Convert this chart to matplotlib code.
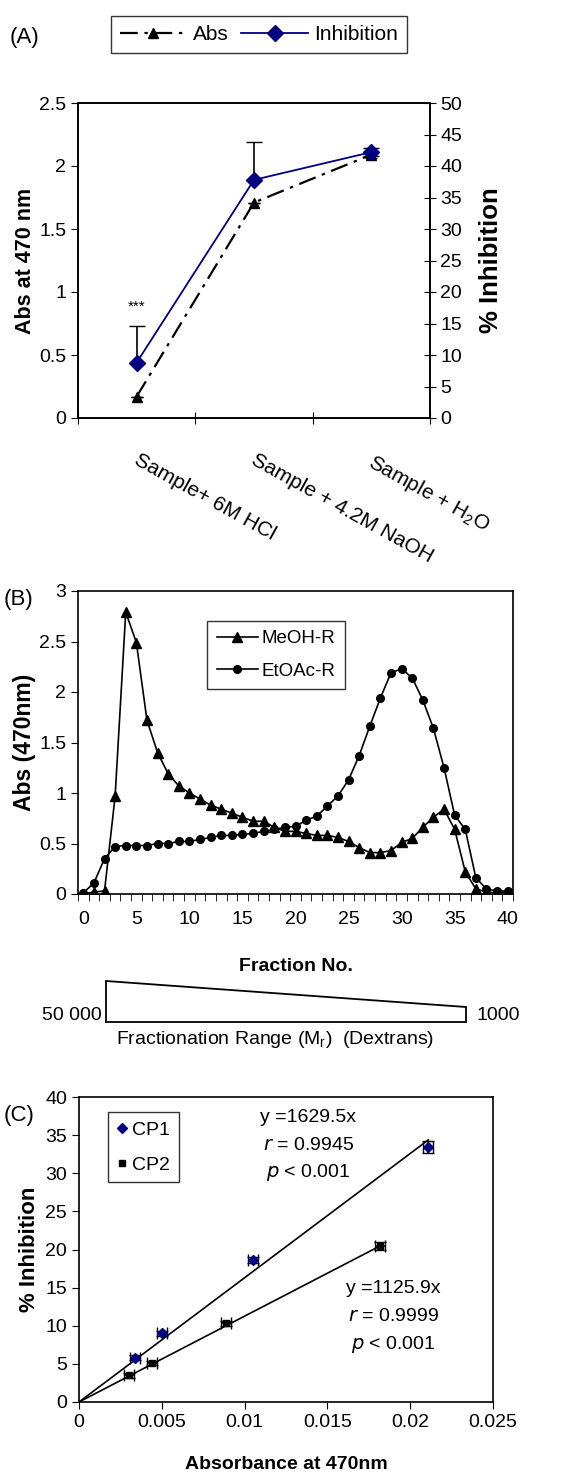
import numpy as np
import matplotlib
matplotlib.use('Agg')
import matplotlib.pyplot as plt
from matplotlib.lines import Line2D
from matplotlib.patches import Polygon

plt.rcParams['font.family'] = ['Liberation Sans', 'DejaVu Sans']
plt.rcParams['font.size'] = 14
plt.rcParams['axes.linewidth'] = 1.2

# ---- (A) treatment comparison ----
treatments = ['Sample+ 6M HCl', 'Sample + 4.2M NaOH',
              'Sample + H$_\\mathregular{2}$O']
abs_a = [0.17, 1.71, 2.09]
abs_a_err = [0.0, 0.0, 0.03]
inhib_a = [8.8, 37.8, 42.2]
inhib_a_err_lo = [0.0, 0.0, 0.6]
inhib_a_err_hi = [5.8, 6.0, 0.6]

# ---- (B) gel filtration profile ----
fractions = list(range(41))
meoh_r = [0.00, 0.02, 0.03, 0.97, 2.79, 2.49, 1.72, 1.40, 1.19, 1.07,
          1.00, 0.94, 0.88, 0.84, 0.80, 0.76, 0.72, 0.72, 0.66, 0.62,
          0.62, 0.60, 0.58, 0.58, 0.56, 0.52, 0.46, 0.41, 0.41, 0.43,
          0.51, 0.55, 0.66, 0.76, 0.84, 0.64, 0.22, 0.05, 0.02, 0.01, 0.02]
etoac_r = [0.01, 0.11, 0.35, 0.47, 0.48, 0.48, 0.48, 0.50, 0.50, 0.52,
           0.52, 0.54, 0.56, 0.58, 0.58, 0.59, 0.60, 0.62, 0.64, 0.66,
           0.67, 0.73, 0.77, 0.87, 0.97, 1.13, 1.37, 1.66, 1.94, 2.19,
           2.23, 2.14, 1.92, 1.64, 1.25, 0.78, 0.64, 0.16, 0.05, 0.03, 0.03]

# ---- (C) dose response ----
cp1_x = [0.0034, 0.0050, 0.0105, 0.0211]
cp1_y = [5.8, 9.0, 18.6, 33.4]
cp1_xerr = [0.0003, 0.0003, 0.0003, 0.0003]
cp1_yerr = [0.3, 0.3, 0.4, 0.8]
cp2_x = [0.0030, 0.0044, 0.0089, 0.0182]
cp2_y = [3.5, 5.1, 10.3, 20.5]
cp2_xerr = [0.0003, 0.0003, 0.0003, 0.0003]
cp2_yerr = [0.3, 0.3, 0.3, 0.5]
slope_cp1 = 1629.5
slope_cp2 = 1125.9

NAVY = '#000080'
W, H = 575, 1477


def rect(l, t, r, b):
    return [l / W, 1 - b / H, (r - l) / W, (b - t) / H]


fig = plt.figure(figsize=(W / 100, H / 100), dpi=100)

# ================= (A) =================
axA = fig.add_axes(rect(78, 103, 430, 418))
xa = np.arange(len(treatments))
axA.errorbar(xa, abs_a, yerr=abs_a_err, color='black', ls=(0, (8, 3, 1.5, 3)),
             lw=1.6, marker='^', ms=7, capsize=4, elinewidth=1.2)
axA.set_xlim(-0.5, 2.5)
axA.set_ylim(0, 2.5)
axA.set_yticks(np.arange(0, 2.51, 0.5))
axA.set_yticklabels(['0', '0.5', '1', '1.5', '2', '2.5'])
axA.set_xticks([-0.5, 0.5, 1.5, 2.5])
axA.set_xticklabels([])
axA.tick_params(axis='x', direction='inout', length=8)
axA.tick_params(axis='y', direction='out', length=5)
axA.set_ylabel('Abs at 470 nm', fontweight='bold', fontsize=15.5, labelpad=2)
for i, lab in enumerate(treatments):
    axA.text(xa[i] + 0.03, -0.26, lab, rotation=-29, ha='left', va='top',
             rotation_mode='anchor', fontsize=15)

axA2 = axA.twinx()
axA2.errorbar(xa, inhib_a, yerr=[inhib_a_err_lo, inhib_a_err_hi], color=NAVY,
              lw=1.3, marker='D', ms=8, ecolor='black', capsize=6,
              elinewidth=1.2)
axA2.set_ylim(0, 50)
axA2.set_yticks(np.arange(0, 51, 5))
axA2.tick_params(axis='y', direction='inout', length=8)
axA2.set_ylabel('% Inhibition', fontweight='bold', fontsize=18.5, labelpad=12)
axA2.text(xa[0], 16.5, '***', ha='center', va='bottom', fontsize=11)

hA = [Line2D([], [], color='black', ls=(0, (8, 3, 1.5, 3)), lw=1.6,
             marker='^', ms=7),
      Line2D([], [], color=NAVY, lw=1.3, marker='D', ms=8)]
legA = fig.legend(hA, ['Abs', 'Inhibition'], loc='center',
                  bbox_to_anchor=(259 / W, 1 - 34.5 / H), ncol=2,
                  fontsize=15, frameon=True, fancybox=False,
                  edgecolor='black', handlelength=3.2, columnspacing=0.6,
                  handletextpad=0.3, borderpad=0.45)
legA.get_frame().set_linewidth(1.0)

# ================= (B) =================
axB = fig.add_axes(rect(78, 591, 513, 894))
axB.plot(fractions, meoh_r, color='black', lw=1.2, marker='^', ms=7,
         label='MeOH-R')
axB.plot(fractions, etoac_r, color='black', lw=1.2, marker='o', ms=5.5,
         label='EtOAc-R')
axB.set_xlim(-0.5, 40.5)
axB.set_ylim(0, 3)
axB.set_yticks(np.arange(0, 3.01, 0.5))
axB.set_yticklabels(['0', '0.5', '1', '1.5', '2', '2.5', '3'])
axB.set_xticks(np.arange(0, 41, 5))
axB.set_xticks(np.arange(-0.5, 41, 1), minor=True)
axB.tick_params(axis='x', which='major', length=0, pad=12)
axB.tick_params(axis='x', which='minor', direction='out', length=5)
axB.tick_params(axis='y', direction='out', length=5)
axB.set_ylabel('Abs (470nm)', fontweight='bold', fontsize=16.5, labelpad=2)
axB.set_xlabel('Fraction No.', fontweight='bold', fontsize=14, labelpad=22)
legB = axB.legend(loc='upper left', bbox_to_anchor=(0.297, 0.901),
                  borderaxespad=0, fontsize=13.5, frameon=True,
                  fancybox=False, edgecolor='black', handlelength=2.2,
                  borderpad=0.5, labelspacing=0.8, handletextpad=0.2)
legB.get_frame().set_linewidth(1.0)

# ================= (C) =================
axC = fig.add_axes(rect(79, 1097, 493, 1402))
axC.errorbar(cp1_x, cp1_y, xerr=cp1_xerr, yerr=cp1_yerr, fmt='D', color=NAVY,
             ms=5, ecolor='black', capsize=4, elinewidth=1.2, label='CP1')
axC.errorbar(cp2_x, cp2_y, xerr=cp2_xerr, yerr=cp2_yerr, fmt='s',
             color='black', ms=5, ecolor='black', capsize=4, elinewidth=1.2,
             label='CP2')
fit1 = np.array([0, max(cp1_x)])
fit2 = np.array([0, max(cp2_x)])
axC.plot(fit1, slope_cp1 * fit1, color='black', lw=1.2)
axC.plot(fit2, slope_cp2 * fit2, color='black', lw=1.2)
axC.set_xlim(0, 0.025)
axC.set_ylim(0, 40)
axC.set_xticks(np.arange(0, 0.0251, 0.005))
axC.set_xticklabels(['0', '0.005', '0.01', '0.015', '0.02', '0.025'])
axC.set_yticks(np.arange(0, 41, 5))
axC.tick_params(direction='out', length=5)
axC.set_ylabel('% Inhibition', fontweight='bold', fontsize=16, labelpad=4)
axC.set_xlabel('Absorbance at 470nm', fontweight='bold', fontsize=14,
               labelpad=18)
axC.text(0.01385, 37.3, 'y =1629.5x', ha='center', va='center', fontsize=14)
axC.text(0.01385, 33.7, '$r$ = 0.9945', ha='center', va='center', fontsize=14)
axC.text(0.01385, 30.1, '$p$ < 0.001', ha='center', va='center', fontsize=14)
axC.text(0.0190, 14.9, 'y =1125.9x', ha='center', va='center', fontsize=14)
axC.text(0.0190, 11.2, '$r$ = 0.9999', ha='center', va='center', fontsize=14)
axC.text(0.0190, 7.6, '$p$ < 0.001', ha='center', va='center', fontsize=14)
hC = [Line2D([], [], ls='none', marker='D', color=NAVY, ms=5),
      Line2D([], [], ls='none', marker='s', color='black', ms=5)]
legC = axC.legend(hC, ['CP1', 'CP2'], loc='upper left',
                  bbox_to_anchor=(0.07, 0.95), borderaxespad=0,
                  fontsize=14, frameon=True, fancybox=False,
                  edgecolor='black', handlelength=0.5, handletextpad=0.3,
                  labelspacing=0.9, borderpad=0.45)
legC.get_frame().set_linewidth(1.0)

# ============ overlay: panel letters and dextran wedge ============
ov = fig.add_axes([0, 0, 1, 1], zorder=-1)
ov.set_xlim(0, W)
ov.set_ylim(H, 0)
ov.axis('off')
ov.text(10, 38, '(A)', fontsize=16, va='center', ha='left')
ov.text(4, 600, '(B)', fontsize=16, va='center', ha='left')
ov.text(4, 1116, '(C)', fontsize=16, va='center', ha='left')
ov.add_patch(Polygon([[106, 981], [466, 1007], [466, 1022], [106, 1022]],
                     closed=True, fill=False, ec='black', lw=1.3))
ov.text(102, 1015, '50 000', ha='right', va='center', fontsize=14)
ov.text(477, 1015, '1000', ha='left', va='center', fontsize=14)
ov.text(275, 1040, 'Fractionation Range (M$_\\mathregular{r}$)  (Dextrans)',
        ha='center', va='center', fontsize=14)

fig.savefig('out.png', dpi=100)
